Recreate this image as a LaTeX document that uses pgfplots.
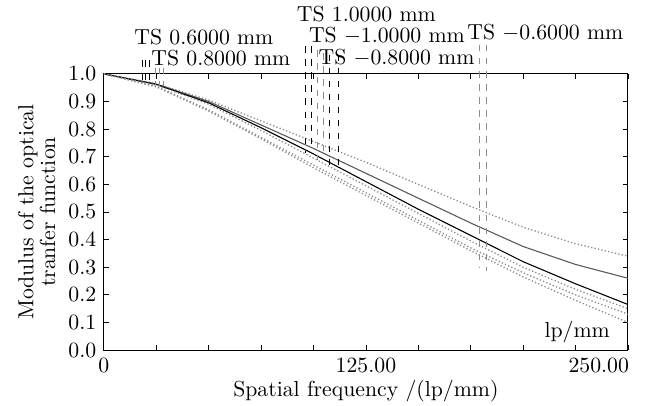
\documentclass[border=0pt]{standalone}
\usepackage{pgfplots}
\pgfplotsset{compat=1.18}
\definecolor{lgray}{gray}{0.55}
\definecolor{mgray}{gray}{0.35}
\begin{document}
\begin{tikzpicture}
\path[use as bounding box] (-47.8pt,-25.3pt) rectangle (251.6pt,161pt);
\begin{axis}[
  scale only axis, width=241pt, height=127pt,
  xmin=0, xmax=250, ymin=0, ymax=1,
  xtick={0,125,250}, xticklabels={0,125.00,{}},
  minor xtick={25,50,75,100,150,175,200,225},
  ytick={0,0.1,0.2,0.3,0.4,0.5,0.6,0.7,0.8,0.9,1.0},
  yticklabel style={/pgf/number format/.cd,fixed,fixed zerofill,precision=1},
  tick pos=both, tick align=inside,
  major tick length=2.5pt, minor tick length=2.5pt,
  tick style={black, line width=0.4pt},
  axis line style={line width=0.5pt},
  xlabel={Spatial frequency /(lp/mm)},
  xlabel style={at={(axis description cs:0.5,0)}, anchor=north, yshift=-10.5pt},
  ylabel={Modulus of the optical\\tranfer function},
  ylabel style={align=center, font=\fontsize{10}{10}\selectfont,
    at={(axis description cs:-0.078,0.5)}, anchor=south},
  clip=false,
]
% MTF curves (top to bottom at 250 lp/mm)
\addplot[lgray, densely dotted, line width=0.6pt] coordinates {
  (0,1.0)(25,0.965)(50,0.905)(75,0.83)(100,0.755)(125,0.68)
  (150,0.60)(175,0.52)(200,0.445)(225,0.385)(250,0.34)};
\addplot[mgray, line width=0.5pt] coordinates {
  (0,1.0)(25,0.963)(50,0.90)(75,0.815)(100,0.73)(125,0.64)
  (150,0.55)(175,0.46)(200,0.375)(225,0.31)(250,0.26)};
\addplot[black, line width=0.5pt] coordinates {
  (0,1.0)(25,0.962)(50,0.895)(75,0.805)(100,0.71)(125,0.61)
  (150,0.51)(175,0.415)(200,0.32)(225,0.24)(250,0.165)};
\addplot[lgray, densely dotted, line width=0.6pt] coordinates {
  (0,1.0)(25,0.96)(50,0.89)(75,0.795)(100,0.695)(125,0.595)
  (150,0.495)(175,0.395)(200,0.30)(225,0.22)(250,0.15)};
\addplot[lgray, densely dotted, line width=0.6pt] coordinates {
  (0,1.0)(25,0.955)(50,0.87)(75,0.77)(100,0.67)(125,0.57)
  (150,0.47)(175,0.37)(200,0.28)(225,0.20)(250,0.13)};
\addplot[lgray, densely dotted, line width=0.6pt] coordinates {
  (0,1.0)(25,0.953)(50,0.865)(75,0.765)(100,0.66)(125,0.56)
  (150,0.46)(175,0.36)(200,0.265)(225,0.18)(250,0.10)};
% label leaders
\addplot[black, dashed, line width=0.4pt] coordinates {(18.5,1.05)(18.5,0.972)};
\addplot[black, dashed, line width=0.4pt] coordinates {(20.0,1.05)(20.0,0.970)};
\addplot[black, dashed, line width=0.4pt] coordinates {(21.6,1.05)(21.6,0.968)};
\addplot[lgray, dashed, line width=0.4pt] coordinates {(24.8,1.022)(24.8,0.962)};
\addplot[lgray, dashed, line width=0.4pt] coordinates {(26.4,1.022)(26.4,0.958)};
\addplot[lgray, dashed, line width=0.4pt] coordinates {(28.3,1.022)(28.3,0.955)};
\addplot[black, dashed, line width=0.4pt] coordinates {(95.9,1.10)(95.9,0.714)};
\addplot[black, dashed, line width=0.4pt] coordinates {(99.1,1.10)(99.1,0.74)};
\addplot[lgray, dashed, line width=0.4pt] coordinates {(101.8,1.085)(101.8,0.69)};
\addplot[lgray, dashed, line width=0.4pt] coordinates {(104.6,1.075)(104.6,0.71)};
\addplot[black, dashed, line width=0.4pt] coordinates {(107.8,1.07)(107.8,0.67)};
\addplot[black, dashed, line width=0.4pt] coordinates {(111.8,1.07)(111.8,0.665)};
\addplot[lgray, dashed, line width=0.4pt] coordinates {(179.0,1.105)(179.0,0.30)};
\addplot[lgray, dashed, line width=0.4pt] coordinates {(182.5,1.105)(182.5,0.285)};
% labels
\node[inner sep=0pt] at (axis cs:47.7,1.134) {TS 0.6000 mm};
\node[inner sep=0pt] at (axis cs:55.8,1.058) {TS 0.8000 mm};
\node[inner sep=0pt] at (axis cs:125.2,1.217) {TS 1.0000 mm};
\node[inner sep=0pt] at (axis cs:135.0,1.138) {TS $-$1.0000 mm};
\node[inner sep=0pt] at (axis cs:139.6,1.058) {TS $-$0.8000 mm};
\node[inner sep=0pt] at (axis cs:210.6,1.149) {TS $-$0.6000 mm};
\node[anchor=east] at (axis cs:245,0.065) {lp/mm};
\node[anchor=north east, xshift=4pt] at (axis cs:250,0) {250.00};
\end{axis}
\end{tikzpicture}
\end{document}
